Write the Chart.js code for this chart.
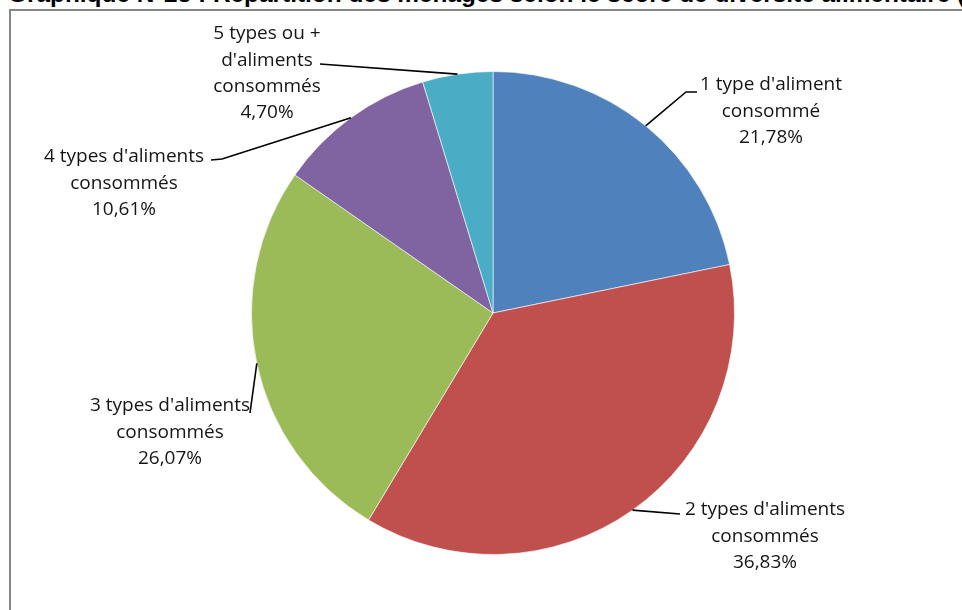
<!DOCTYPE html>
<html>
<head>
<meta charset="utf-8">
<script src="https://cdn.jsdelivr.net/npm/chart.js@4.4.0/dist/chart.umd.min.js"></script>
<style>
  html, body { margin: 0; padding: 0; width: 962px; height: 610px; overflow: hidden; background: #fff; }
  #title { position: absolute; left: 8px; top: -20px; font: bold 24.4px "Liberation Sans", Arial, sans-serif; white-space: nowrap; color: #000; }
  #frame { position: absolute; left: 9px; top: 9px; width: 1000px; height: 700px; border-left: 2px solid #878787; border-top: 2px solid #878787; }
  #wrap { position: absolute; left: 0; top: 0; width: 962px; height: 610px; }
</style>
</head>
<body>
<div id="title">Graphique N°25 : Répartition des ménages selon le score de diversité alimentaire (SDA)</div>
<div id="frame"></div>
<div id="wrap"><canvas id="myChart" width="962" height="610"></canvas></div>
<script>
// categories (one entry per line of the label) and shares in %
const categories = [
  ["1 type d'aliment", "consommé"],
  ["2 types d'aliments", "consommés"],
  ["3 types d'aliments", "consommés"],
  ["4 types d'aliments", "consommés"],
  ["5 types ou +", "d'aliments", "consommés"]
];
const values = [21.78, 36.83, 26.07, 10.61, 4.70];
const colors = ['#4F81BD', '#C0504D', '#9BBB59', '#8064A2', '#4BACC6'];

// label placement relative to pie centre: text = first line centre, path = leader points after the arc
const labelLayout = [
  { text: [278, -228], path: [[193, -221], [204, -221]] },
  { text: [272, 197],  path: [[187, 201]] },
  { text: [-323, 93],  path: [[-243, 100]] },
  { text: [-369, -156], path: [[-271, -154], [-282, -153]] },
  { text: [-226, -279], path: [[-173, -249]] }
];
const lineH = 26.3;

function fmt(v) {
  return v.toFixed(2).replace('.', ',') + '%';
}

const leaderLabels = {
  id: 'leaderLabels',
  afterDatasetsDraw(chart) {
    const ctx = chart.ctx;
    const arcs = chart.getDatasetMeta(0).data;
    ctx.save();
    arcs.forEach(function (arc, i) {
      const p = arc.getProps(['x', 'y', 'startAngle', 'endAngle', 'outerRadius'], true);
      const mid = (p.startAngle + p.endAngle) / 2;
      const lay = labelLayout[i];
      // leader line from the middle of the slice edge
      ctx.beginPath();
      ctx.moveTo(p.x + Math.cos(mid) * p.outerRadius, p.y + Math.sin(mid) * p.outerRadius);
      lay.path.forEach(function (pt) { ctx.lineTo(p.x + pt[0], p.y + pt[1]); });
      ctx.strokeStyle = '#000';
      ctx.lineWidth = 1.6;
      ctx.stroke();
      // text
      const lines = categories[i].concat([fmt(values[i])]);
      ctx.font = '19px "Open Sans", sans-serif';
      ctx.fillStyle = '#151515';
      ctx.textAlign = 'center';
      ctx.textBaseline = 'middle';
      lines.forEach(function (t, k) {
        ctx.fillText(t, p.x + lay.text[0], p.y + lay.text[1] + k * lineH);
      });
    });
    ctx.restore();
  }
};

var config = {
  type: 'pie',
  data: {
    labels: categories,
    datasets: [{
      data: values,
      backgroundColor: colors,
      borderColor: 'rgba(255,255,255,0.6)',
      borderWidth: 1
    }]
  },
  options: {
    responsive: false,
    animation: false,
    layout: { padding: { left: 251, right: 227, top: 71, bottom: 55 } },
    plugins: {
      legend: { display: false },
      tooltip: { enabled: false }
    }
  },
  plugins: [leaderLabels]
};

var myChart = new Chart(document.getElementById('myChart'), config);
</script>
</body>
</html>
